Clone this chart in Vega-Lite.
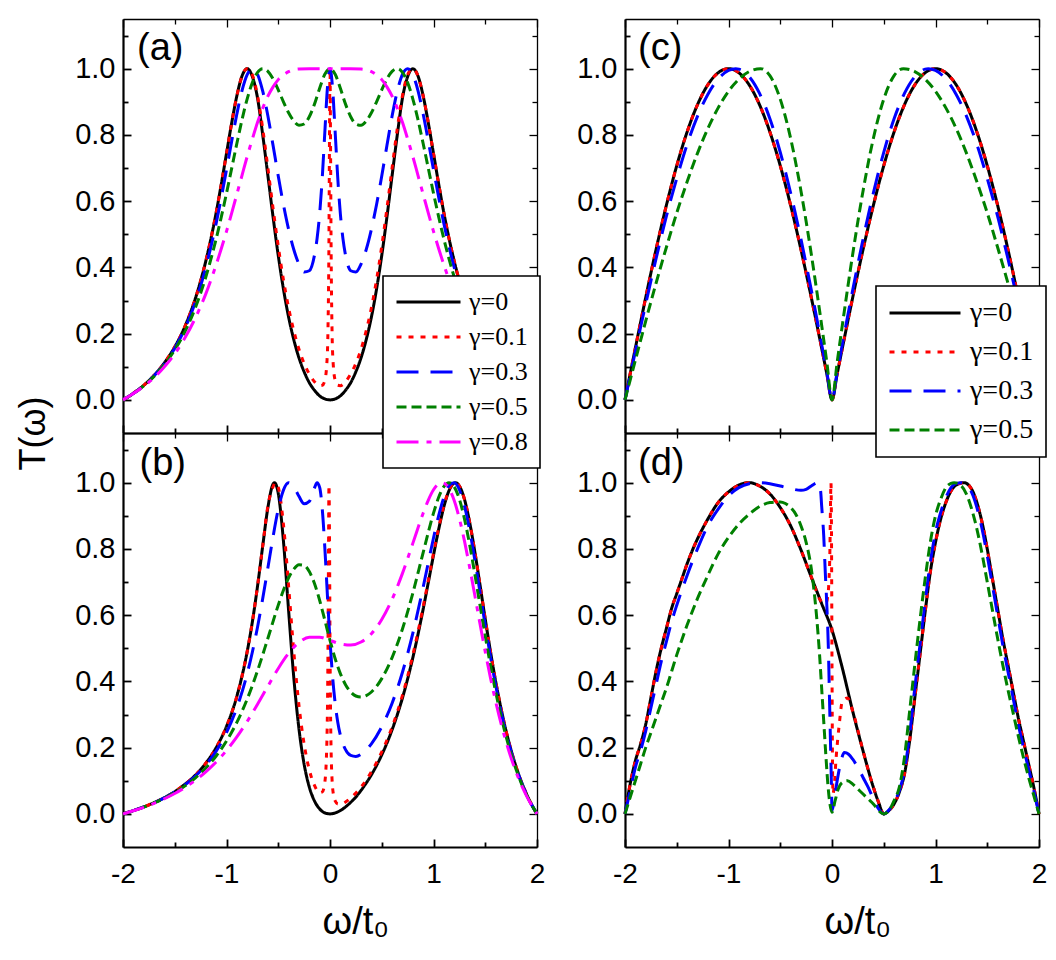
{
  "$schema": "https://vega.github.io/schema/vega-lite/v6.json",
  "background": "white",
  "padding": {"left": 15, "top": 18, "right": 4, "bottom": 4},
  "columns": 2,
  "spacing": {"row": 0, "column": 88},
  "bounds": "flush",
  "config": {
    "view": {"stroke": null},
    "font": "Liberation Sans",
    "axis": {
      "grid": false,
      "domainColor": "black",
      "tickColor": "black",
      "labelColor": "black",
      "titleColor": "black",
      "labelFont": "Liberation Sans",
      "titleFont": "Liberation Sans",
      "titleFontWeight": "normal",
      "labelOverlap": false,
      "labelFlush": false,
      "labelBound": false
    },
    "legend": {"strokeWidth": 1.6}
  },
  "resolve": {
    "scale": {"color": "independent", "strokeDash": "independent"},
    "legend": {"color": "independent", "strokeDash": "independent"}
  },
  "datasets": {
    "panelA": [
      {"gamma":"γ=0","x":-2,"T":0},{"gamma":"γ=0","x":-1.95,"T":0.009},{"gamma":"γ=0","x":-1.9,"T":0.02},{"gamma":"γ=0","x":-1.8,"T":0.044},{"gamma":"γ=0","x":-1.7,"T":0.074},{"gamma":"γ=0","x":-1.6,"T":0.112},{"gamma":"γ=0","x":-1.5,"T":0.16},{"gamma":"γ=0","x":-1.4,"T":0.223},{"gamma":"γ=0","x":-1.3,"T":0.307},{"gamma":"γ=0","x":-1.2,"T":0.419},{"gamma":"γ=0","x":-1.1,"T":0.565},{"gamma":"γ=0","x":-1.05,"T":0.652},{"gamma":"γ=0","x":-1,"T":0.744},{"gamma":"γ=0","x":-0.95,"T":0.836},{"gamma":"γ=0","x":-0.9,"T":0.918},{"gamma":"γ=0","x":-0.85,"T":0.978},{"gamma":"γ=0","x":-0.8,"T":1},{"gamma":"γ=0","x":-0.75,"T":0.976},{"gamma":"γ=0","x":-0.7,"T":0.911},{"gamma":"γ=0","x":-0.65,"T":0.8},{"gamma":"γ=0","x":-0.6,"T":0.677},{"gamma":"γ=0","x":-0.55,"T":0.552},{"gamma":"γ=0","x":-0.5,"T":0.436},{"gamma":"γ=0","x":-0.45,"T":0.335},{"gamma":"γ=0","x":-0.4,"T":0.25},{"gamma":"γ=0","x":-0.35,"T":0.182},{"gamma":"γ=0","x":-0.3,"T":0.127},{"gamma":"γ=0","x":-0.25,"T":0.085},{"gamma":"γ=0","x":-0.2,"T":0.052},{"gamma":"γ=0","x":-0.15,"T":0.029},{"gamma":"γ=0","x":-0.1,"T":0.012},{"gamma":"γ=0","x":-0.05,"T":0.003},{"gamma":"γ=0","x":0,"T":0},
      {"gamma":"γ=0","x":0.05,"T":0.003},{"gamma":"γ=0","x":0.1,"T":0.012},{"gamma":"γ=0","x":0.15,"T":0.029},{"gamma":"γ=0","x":0.2,"T":0.052},{"gamma":"γ=0","x":0.25,"T":0.085},{"gamma":"γ=0","x":0.3,"T":0.127},{"gamma":"γ=0","x":0.35,"T":0.182},{"gamma":"γ=0","x":0.4,"T":0.25},{"gamma":"γ=0","x":0.45,"T":0.335},{"gamma":"γ=0","x":0.5,"T":0.436},{"gamma":"γ=0","x":0.55,"T":0.552},{"gamma":"γ=0","x":0.6,"T":0.677},{"gamma":"γ=0","x":0.65,"T":0.8},{"gamma":"γ=0","x":0.7,"T":0.911},{"gamma":"γ=0","x":0.75,"T":0.976},{"gamma":"γ=0","x":0.8,"T":1},{"gamma":"γ=0","x":0.85,"T":0.978},{"gamma":"γ=0","x":0.9,"T":0.918},{"gamma":"γ=0","x":0.95,"T":0.836},{"gamma":"γ=0","x":1,"T":0.744},{"gamma":"γ=0","x":1.05,"T":0.652},{"gamma":"γ=0","x":1.1,"T":0.565},{"gamma":"γ=0","x":1.2,"T":0.419},{"gamma":"γ=0","x":1.3,"T":0.307},{"gamma":"γ=0","x":1.4,"T":0.223},{"gamma":"γ=0","x":1.5,"T":0.16},{"gamma":"γ=0","x":1.6,"T":0.112},{"gamma":"γ=0","x":1.7,"T":0.074},{"gamma":"γ=0","x":1.8,"T":0.044},{"gamma":"γ=0","x":1.9,"T":0.02},{"gamma":"γ=0","x":1.95,"T":0.009},{"gamma":"γ=0","x":2,"T":0},

      {"gamma":"γ=0.1","x":-2,"T":0},{"gamma":"γ=0.1","x":-1.95,"T":0.009},{"gamma":"γ=0.1","x":-1.9,"T":0.02},{"gamma":"γ=0.1","x":-1.8,"T":0.044},{"gamma":"γ=0.1","x":-1.7,"T":0.074},{"gamma":"γ=0.1","x":-1.6,"T":0.112},{"gamma":"γ=0.1","x":-1.5,"T":0.16},{"gamma":"γ=0.1","x":-1.4,"T":0.223},{"gamma":"γ=0.1","x":-1.3,"T":0.307},{"gamma":"γ=0.1","x":-1.2,"T":0.419},{"gamma":"γ=0.1","x":-1.1,"T":0.565},{"gamma":"γ=0.1","x":-1.05,"T":0.652},{"gamma":"γ=0.1","x":-1,"T":0.744},{"gamma":"γ=0.1","x":-0.95,"T":0.836},{"gamma":"γ=0.1","x":-0.9,"T":0.918},{"gamma":"γ=0.1","x":-0.85,"T":0.978},{"gamma":"γ=0.1","x":-0.8,"T":1},{"gamma":"γ=0.1","x":-0.75,"T":0.981},{"gamma":"γ=0.1","x":-0.7,"T":0.918},{"gamma":"γ=0.1","x":-0.65,"T":0.819},{"gamma":"γ=0.1","x":-0.6,"T":0.7},{"gamma":"γ=0.1","x":-0.55,"T":0.578},{"gamma":"γ=0.1","x":-0.5,"T":0.464},{"gamma":"γ=0.1","x":-0.45,"T":0.363},{"gamma":"γ=0.1","x":-0.4,"T":0.278},{"gamma":"γ=0.1","x":-0.35,"T":0.209},{"gamma":"γ=0.1","x":-0.3,"T":0.153},{"gamma":"γ=0.1","x":-0.25,"T":0.11},{"gamma":"γ=0.1","x":-0.2,"T":0.078},{"gamma":"γ=0.1","x":-0.15,"T":0.055},{"gamma":"γ=0.1","x":-0.1,"T":0.043},{"gamma":"γ=0.1","x":-0.075,"T":0.044},{"gamma":"γ=0.1","x":-0.05,"T":0.059},{"gamma":"γ=0.1","x":-0.03,"T":0.113},{"gamma":"γ=0.1","x":-0.02,"T":0.205},{"gamma":"γ=0.1","x":-0.01,"T":0.491},{"gamma":"γ=0.1","x":-0.005,"T":0.791},{"gamma":"γ=0.1","x":0,"T":1},
      {"gamma":"γ=0.1","x":0.005,"T":0.791},{"gamma":"γ=0.1","x":0.01,"T":0.491},{"gamma":"γ=0.1","x":0.02,"T":0.205},{"gamma":"γ=0.1","x":0.03,"T":0.113},{"gamma":"γ=0.1","x":0.05,"T":0.059},{"gamma":"γ=0.1","x":0.075,"T":0.044},{"gamma":"γ=0.1","x":0.1,"T":0.043},{"gamma":"γ=0.1","x":0.15,"T":0.055},{"gamma":"γ=0.1","x":0.2,"T":0.078},{"gamma":"γ=0.1","x":0.25,"T":0.11},{"gamma":"γ=0.1","x":0.3,"T":0.153},{"gamma":"γ=0.1","x":0.35,"T":0.209},{"gamma":"γ=0.1","x":0.4,"T":0.278},{"gamma":"γ=0.1","x":0.45,"T":0.363},{"gamma":"γ=0.1","x":0.5,"T":0.464},{"gamma":"γ=0.1","x":0.55,"T":0.578},{"gamma":"γ=0.1","x":0.6,"T":0.7},{"gamma":"γ=0.1","x":0.65,"T":0.819},{"gamma":"γ=0.1","x":0.7,"T":0.918},{"gamma":"γ=0.1","x":0.75,"T":0.981},{"gamma":"γ=0.1","x":0.8,"T":1},{"gamma":"γ=0.1","x":0.85,"T":0.978},{"gamma":"γ=0.1","x":0.9,"T":0.918},{"gamma":"γ=0.1","x":0.95,"T":0.836},{"gamma":"γ=0.1","x":1,"T":0.744},{"gamma":"γ=0.1","x":1.05,"T":0.652},{"gamma":"γ=0.1","x":1.1,"T":0.565},{"gamma":"γ=0.1","x":1.2,"T":0.419},{"gamma":"γ=0.1","x":1.3,"T":0.307},{"gamma":"γ=0.1","x":1.4,"T":0.223},{"gamma":"γ=0.1","x":1.5,"T":0.16},{"gamma":"γ=0.1","x":1.6,"T":0.112},{"gamma":"γ=0.1","x":1.7,"T":0.074},{"gamma":"γ=0.1","x":1.8,"T":0.044},{"gamma":"γ=0.1","x":1.9,"T":0.02},{"gamma":"γ=0.1","x":1.95,"T":0.009},{"gamma":"γ=0.1","x":2,"T":0},

      {"gamma":"γ=0.3","x":-2,"T":0},{"gamma":"γ=0.3","x":-1.9,"T":0.019},{"gamma":"γ=0.3","x":-1.8,"T":0.043},{"gamma":"γ=0.3","x":-1.7,"T":0.073},{"gamma":"γ=0.3","x":-1.6,"T":0.109},{"gamma":"γ=0.3","x":-1.5,"T":0.156},{"gamma":"γ=0.3","x":-1.4,"T":0.217},{"gamma":"γ=0.3","x":-1.3,"T":0.296},{"gamma":"γ=0.3","x":-1.2,"T":0.4},{"gamma":"γ=0.3","x":-1.1,"T":0.533},{"gamma":"γ=0.3","x":-1,"T":0.695},{"gamma":"γ=0.3","x":-0.95,"T":0.781},{"gamma":"γ=0.3","x":-0.9,"T":0.863},{"gamma":"γ=0.3","x":-0.85,"T":0.934},{"gamma":"γ=0.3","x":-0.8,"T":0.982},{"gamma":"γ=0.3","x":-0.75,"T":1},{"gamma":"γ=0.3","x":-0.7,"T":0.983},{"gamma":"γ=0.3","x":-0.65,"T":0.932},{"gamma":"γ=0.3","x":-0.6,"T":0.857},{"gamma":"γ=0.3","x":-0.55,"T":0.768},{"gamma":"γ=0.3","x":-0.5,"T":0.676},{"gamma":"γ=0.3","x":-0.45,"T":0.59},{"gamma":"γ=0.3","x":-0.4,"T":0.515},{"gamma":"γ=0.3","x":-0.35,"T":0.454},{"gamma":"γ=0.3","x":-0.3,"T":0.41},{"gamma":"γ=0.3","x":-0.25,"T":0.386},{"gamma":"γ=0.3","x":-0.2,"T":0.39},{"gamma":"γ=0.3","x":-0.15,"T":0.437},{"gamma":"γ=0.3","x":-0.125,"T":0.487},{"gamma":"γ=0.3","x":-0.1,"T":0.562},{"gamma":"γ=0.3","x":-0.075,"T":0.67},{"gamma":"γ=0.3","x":-0.05,"T":0.808},{"gamma":"γ=0.3","x":-0.025,"T":0.941},{"gamma":"γ=0.3","x":0,"T":1},
      {"gamma":"γ=0.3","x":0.025,"T":0.941},{"gamma":"γ=0.3","x":0.05,"T":0.808},{"gamma":"γ=0.3","x":0.075,"T":0.67},{"gamma":"γ=0.3","x":0.1,"T":0.562},{"gamma":"γ=0.3","x":0.125,"T":0.487},{"gamma":"γ=0.3","x":0.15,"T":0.437},{"gamma":"γ=0.3","x":0.2,"T":0.39},{"gamma":"γ=0.3","x":0.25,"T":0.386},{"gamma":"γ=0.3","x":0.3,"T":0.41},{"gamma":"γ=0.3","x":0.35,"T":0.454},{"gamma":"γ=0.3","x":0.4,"T":0.515},{"gamma":"γ=0.3","x":0.45,"T":0.59},{"gamma":"γ=0.3","x":0.5,"T":0.676},{"gamma":"γ=0.3","x":0.55,"T":0.768},{"gamma":"γ=0.3","x":0.6,"T":0.857},{"gamma":"γ=0.3","x":0.65,"T":0.932},{"gamma":"γ=0.3","x":0.7,"T":0.983},{"gamma":"γ=0.3","x":0.75,"T":1},{"gamma":"γ=0.3","x":0.8,"T":0.982},{"gamma":"γ=0.3","x":0.85,"T":0.934},{"gamma":"γ=0.3","x":0.9,"T":0.863},{"gamma":"γ=0.3","x":0.95,"T":0.781},{"gamma":"γ=0.3","x":1,"T":0.695},{"gamma":"γ=0.3","x":1.1,"T":0.533},{"gamma":"γ=0.3","x":1.2,"T":0.4},{"gamma":"γ=0.3","x":1.3,"T":0.296},{"gamma":"γ=0.3","x":1.4,"T":0.217},{"gamma":"γ=0.3","x":1.5,"T":0.156},{"gamma":"γ=0.3","x":1.6,"T":0.109},{"gamma":"γ=0.3","x":1.7,"T":0.073},{"gamma":"γ=0.3","x":1.8,"T":0.043},{"gamma":"γ=0.3","x":1.9,"T":0.019},{"gamma":"γ=0.3","x":2,"T":0},

      {"gamma":"γ=0.5","x":-2,"T":0},{"gamma":"γ=0.5","x":-1.9,"T":0.019},{"gamma":"γ=0.5","x":-1.8,"T":0.042},{"gamma":"γ=0.5","x":-1.7,"T":0.071},{"gamma":"γ=0.5","x":-1.6,"T":0.106},{"gamma":"γ=0.5","x":-1.5,"T":0.151},{"gamma":"γ=0.5","x":-1.4,"T":0.207},{"gamma":"γ=0.5","x":-1.3,"T":0.279},{"gamma":"γ=0.5","x":-1.2,"T":0.371},{"gamma":"γ=0.5","x":-1.1,"T":0.486},{"gamma":"γ=0.5","x":-1,"T":0.624},{"gamma":"γ=0.5","x":-0.95,"T":0.699},{"gamma":"γ=0.5","x":-0.9,"T":0.774},{"gamma":"γ=0.5","x":-0.85,"T":0.846},{"gamma":"γ=0.5","x":-0.8,"T":0.909},{"gamma":"γ=0.5","x":-0.75,"T":0.958},{"gamma":"γ=0.5","x":-0.7,"T":0.989},{"gamma":"γ=0.5","x":-0.65,"T":1},{"gamma":"γ=0.5","x":-0.6,"T":0.992},{"gamma":"γ=0.5","x":-0.55,"T":0.969},{"gamma":"γ=0.5","x":-0.5,"T":0.936},{"gamma":"γ=0.5","x":-0.45,"T":0.9},{"gamma":"γ=0.5","x":-0.4,"T":0.867},{"gamma":"γ=0.5","x":-0.35,"T":0.842},{"gamma":"γ=0.5","x":-0.3,"T":0.829},{"gamma":"γ=0.5","x":-0.25,"T":0.833},{"gamma":"γ=0.5","x":-0.2,"T":0.855},{"gamma":"γ=0.5","x":-0.15,"T":0.893},{"gamma":"γ=0.5","x":-0.1,"T":0.941},{"gamma":"γ=0.5","x":-0.05,"T":0.983},{"gamma":"γ=0.5","x":0,"T":1},
      {"gamma":"γ=0.5","x":0.05,"T":0.983},{"gamma":"γ=0.5","x":0.1,"T":0.941},{"gamma":"γ=0.5","x":0.15,"T":0.893},{"gamma":"γ=0.5","x":0.2,"T":0.855},{"gamma":"γ=0.5","x":0.25,"T":0.833},{"gamma":"γ=0.5","x":0.3,"T":0.829},{"gamma":"γ=0.5","x":0.35,"T":0.842},{"gamma":"γ=0.5","x":0.4,"T":0.867},{"gamma":"γ=0.5","x":0.45,"T":0.9},{"gamma":"γ=0.5","x":0.5,"T":0.936},{"gamma":"γ=0.5","x":0.55,"T":0.969},{"gamma":"γ=0.5","x":0.6,"T":0.992},{"gamma":"γ=0.5","x":0.65,"T":1},{"gamma":"γ=0.5","x":0.7,"T":0.989},{"gamma":"γ=0.5","x":0.75,"T":0.958},{"gamma":"γ=0.5","x":0.8,"T":0.909},{"gamma":"γ=0.5","x":0.85,"T":0.846},{"gamma":"γ=0.5","x":0.9,"T":0.774},{"gamma":"γ=0.5","x":0.95,"T":0.699},{"gamma":"γ=0.5","x":1,"T":0.624},{"gamma":"γ=0.5","x":1.1,"T":0.486},{"gamma":"γ=0.5","x":1.2,"T":0.371},{"gamma":"γ=0.5","x":1.3,"T":0.279},{"gamma":"γ=0.5","x":1.4,"T":0.207},{"gamma":"γ=0.5","x":1.5,"T":0.151},{"gamma":"γ=0.5","x":1.6,"T":0.106},{"gamma":"γ=0.5","x":1.7,"T":0.071},{"gamma":"γ=0.5","x":1.8,"T":0.042},{"gamma":"γ=0.5","x":1.9,"T":0.019},{"gamma":"γ=0.5","x":2,"T":0},

      {"gamma":"γ=0.8","x":-2,"T":0},{"gamma":"γ=0.8","x":-1.9,"T":0.019},{"gamma":"γ=0.8","x":-1.8,"T":0.041},{"gamma":"γ=0.8","x":-1.7,"T":0.067},{"gamma":"γ=0.8","x":-1.6,"T":0.1},{"gamma":"γ=0.8","x":-1.5,"T":0.139},{"gamma":"γ=0.8","x":-1.4,"T":0.188},{"gamma":"γ=0.8","x":-1.3,"T":0.248},{"gamma":"γ=0.8","x":-1.2,"T":0.32},{"gamma":"γ=0.8","x":-1.1,"T":0.408},{"gamma":"γ=0.8","x":-1,"T":0.509},{"gamma":"γ=0.8","x":-0.95,"T":0.564},{"gamma":"γ=0.8","x":-0.9,"T":0.621},{"gamma":"γ=0.8","x":-0.85,"T":0.678},{"gamma":"γ=0.8","x":-0.8,"T":0.735},{"gamma":"γ=0.8","x":-0.75,"T":0.788},{"gamma":"γ=0.8","x":-0.7,"T":0.838},{"gamma":"γ=0.8","x":-0.65,"T":0.881},{"gamma":"γ=0.8","x":-0.6,"T":0.917},{"gamma":"γ=0.8","x":-0.55,"T":0.945},{"gamma":"γ=0.8","x":-0.5,"T":0.967},{"gamma":"γ=0.8","x":-0.45,"T":0.981},{"gamma":"γ=0.8","x":-0.4,"T":0.991},{"gamma":"γ=0.8","x":-0.3,"T":0.999},{"gamma":"γ=0.8","x":-0.2,"T":1},{"gamma":"γ=0.8","x":-0.1,"T":1},{"gamma":"γ=0.8","x":0,"T":1},
      {"gamma":"γ=0.8","x":0.1,"T":1},{"gamma":"γ=0.8","x":0.2,"T":1},{"gamma":"γ=0.8","x":0.3,"T":0.999},{"gamma":"γ=0.8","x":0.4,"T":0.991},{"gamma":"γ=0.8","x":0.45,"T":0.981},{"gamma":"γ=0.8","x":0.5,"T":0.967},{"gamma":"γ=0.8","x":0.55,"T":0.945},{"gamma":"γ=0.8","x":0.6,"T":0.917},{"gamma":"γ=0.8","x":0.65,"T":0.881},{"gamma":"γ=0.8","x":0.7,"T":0.838},{"gamma":"γ=0.8","x":0.75,"T":0.788},{"gamma":"γ=0.8","x":0.8,"T":0.735},{"gamma":"γ=0.8","x":0.85,"T":0.678},{"gamma":"γ=0.8","x":0.9,"T":0.621},{"gamma":"γ=0.8","x":0.95,"T":0.564},{"gamma":"γ=0.8","x":1,"T":0.509},{"gamma":"γ=0.8","x":1.1,"T":0.408},{"gamma":"γ=0.8","x":1.2,"T":0.32},{"gamma":"γ=0.8","x":1.3,"T":0.248},{"gamma":"γ=0.8","x":1.4,"T":0.188},{"gamma":"γ=0.8","x":1.5,"T":0.139},{"gamma":"γ=0.8","x":1.6,"T":0.1},{"gamma":"γ=0.8","x":1.7,"T":0.067},{"gamma":"γ=0.8","x":1.8,"T":0.041},{"gamma":"γ=0.8","x":1.9,"T":0.019},{"gamma":"γ=0.8","x":2,"T":0}
    ],
    "panelB": [
      {"gamma":"γ=0","x":-2,"T":0},{"gamma":"γ=0","x":-1.95,"T":0.005},{"gamma":"γ=0","x":-1.9,"T":0.01},{"gamma":"γ=0","x":-1.8,"T":0.021},{"gamma":"γ=0","x":-1.7,"T":0.034},{"gamma":"γ=0","x":-1.6,"T":0.049},{"gamma":"γ=0","x":-1.5,"T":0.067},{"gamma":"γ=0","x":-1.4,"T":0.09},{"gamma":"γ=0","x":-1.3,"T":0.117},{"gamma":"γ=0","x":-1.2,"T":0.153},{"gamma":"γ=0","x":-1.1,"T":0.2},{"gamma":"γ=0","x":-1,"T":0.264},{"gamma":"γ=0","x":-0.9,"T":0.355},{"gamma":"γ=0","x":-0.8,"T":0.49},{"gamma":"γ=0","x":-0.75,"T":0.58},{"gamma":"γ=0","x":-0.7,"T":0.688},{"gamma":"γ=0","x":-0.65,"T":0.809},{"gamma":"γ=0","x":-0.6,"T":0.925},{"gamma":"γ=0","x":-0.55,"T":0.996},{"gamma":"γ=0","x":-0.537,"T":1},{"gamma":"γ=0","x":-0.5,"T":0.968},{"gamma":"γ=0","x":-0.45,"T":0.824},{"gamma":"γ=0","x":-0.4,"T":0.614},{"gamma":"γ=0","x":-0.35,"T":0.412},{"gamma":"γ=0","x":-0.3,"T":0.257},{"gamma":"γ=0","x":-0.25,"T":0.15},{"gamma":"γ=0","x":-0.2,"T":0.081},{"gamma":"γ=0","x":-0.15,"T":0.039},{"gamma":"γ=0","x":-0.1,"T":0.015},{"gamma":"γ=0","x":-0.05,"T":0.003},{"gamma":"γ=0","x":0,"T":0},{"gamma":"γ=0","x":0.05,"T":0.003},{"gamma":"γ=0","x":0.1,"T":0.01},{"gamma":"γ=0","x":0.15,"T":0.021},{"gamma":"γ=0","x":0.2,"T":0.035},{"gamma":"γ=0","x":0.25,"T":0.051},{"gamma":"γ=0","x":0.3,"T":0.071},{"gamma":"γ=0","x":0.4,"T":0.118},{"gamma":"γ=0","x":0.5,"T":0.178},{"gamma":"γ=0","x":0.6,"T":0.254},{"gamma":"γ=0","x":0.7,"T":0.35},{"gamma":"γ=0","x":0.8,"T":0.471},{"gamma":"γ=0","x":0.9,"T":0.618},{"gamma":"γ=0","x":0.95,"T":0.699},{"gamma":"γ=0","x":1,"T":0.781},{"gamma":"γ=0","x":1.05,"T":0.859},{"gamma":"γ=0","x":1.1,"T":0.927},{"gamma":"γ=0","x":1.15,"T":0.976},{"gamma":"γ=0","x":1.212,"T":1},{"gamma":"γ=0","x":1.25,"T":0.99},{"gamma":"γ=0","x":1.3,"T":0.949},{"gamma":"γ=0","x":1.35,"T":0.879},{"gamma":"γ=0","x":1.4,"T":0.79},{"gamma":"γ=0","x":1.45,"T":0.69},{"gamma":"γ=0","x":1.5,"T":0.588},{"gamma":"γ=0","x":1.55,"T":0.491},{"gamma":"γ=0","x":1.6,"T":0.401},{"gamma":"γ=0","x":1.65,"T":0.322},{"gamma":"γ=0","x":1.7,"T":0.252},{"gamma":"γ=0","x":1.75,"T":0.192},{"gamma":"γ=0","x":1.8,"T":0.14},{"gamma":"γ=0","x":1.85,"T":0.096},{"gamma":"γ=0","x":1.9,"T":0.059},{"gamma":"γ=0","x":1.95,"T":0.027},{"gamma":"γ=0","x":2,"T":0},

      {"gamma":"γ=0.1","x":-2,"T":0},{"gamma":"γ=0.1","x":-1.95,"T":0.005},{"gamma":"γ=0.1","x":-1.9,"T":0.01},{"gamma":"γ=0.1","x":-1.8,"T":0.021},{"gamma":"γ=0.1","x":-1.7,"T":0.034},{"gamma":"γ=0.1","x":-1.6,"T":0.049},{"gamma":"γ=0.1","x":-1.5,"T":0.067},{"gamma":"γ=0.1","x":-1.4,"T":0.09},{"gamma":"γ=0.1","x":-1.3,"T":0.117},{"gamma":"γ=0.1","x":-1.2,"T":0.153},{"gamma":"γ=0.1","x":-1.1,"T":0.2},{"gamma":"γ=0.1","x":-1,"T":0.264},{"gamma":"γ=0.1","x":-0.9,"T":0.355},{"gamma":"γ=0.1","x":-0.8,"T":0.49},{"gamma":"γ=0.1","x":-0.75,"T":0.58},{"gamma":"γ=0.1","x":-0.7,"T":0.688},{"gamma":"γ=0.1","x":-0.65,"T":0.809},{"gamma":"γ=0.1","x":-0.6,"T":0.93},{"gamma":"γ=0.1","x":-0.55,"T":0.988},{"gamma":"γ=0.1","x":-0.53,"T":1},{"gamma":"γ=0.1","x":-0.5,"T":0.986},{"gamma":"γ=0.1","x":-0.45,"T":0.875},{"gamma":"γ=0.1","x":-0.4,"T":0.688},{"gamma":"γ=0.1","x":-0.35,"T":0.491},{"gamma":"γ=0.1","x":-0.3,"T":0.328},{"gamma":"γ=0.1","x":-0.25,"T":0.211},{"gamma":"γ=0.1","x":-0.2,"T":0.133},{"gamma":"γ=0.1","x":-0.15,"T":0.086},{"gamma":"γ=0.1","x":-0.1,"T":0.064},{"gamma":"γ=0.1","x":-0.075,"T":0.066},{"gamma":"γ=0.1","x":-0.05,"T":0.095},{"gamma":"γ=0.1","x":-0.03,"T":0.219},{"gamma":"γ=0.1","x":-0.02,"T":0.477},{"gamma":"γ=0.1","x":-0.015,"T":0.751},{"gamma":"γ=0.1","x":-0.01,"T":0.993},{"gamma":"γ=0.1","x":-0.005,"T":0.843},{"gamma":"γ=0.1","x":0,"T":0.524},{"gamma":"γ=0.1","x":0.005,"T":0.315},{"gamma":"γ=0.1","x":0.01,"T":0.202},{"gamma":"γ=0.1","x":0.02,"T":0.103},{"gamma":"γ=0.1","x":0.03,"T":0.065},{"gamma":"γ=0.1","x":0.05,"T":0.039},{"gamma":"γ=0.1","x":0.075,"T":0.03},{"gamma":"γ=0.1","x":0.1,"T":0.029},{"gamma":"γ=0.1","x":0.15,"T":0.036},{"gamma":"γ=0.1","x":0.2,"T":0.048},{"gamma":"γ=0.1","x":0.25,"T":0.063},{"gamma":"γ=0.1","x":0.3,"T":0.081},{"gamma":"γ=0.1","x":0.4,"T":0.127},{"gamma":"γ=0.1","x":0.5,"T":0.187},{"gamma":"γ=0.1","x":0.6,"T":0.262},{"gamma":"γ=0.1","x":0.7,"T":0.358},{"gamma":"γ=0.1","x":0.8,"T":0.479},{"gamma":"γ=0.1","x":0.9,"T":0.625},{"gamma":"γ=0.1","x":0.95,"T":0.705},{"gamma":"γ=0.1","x":1,"T":0.787},{"gamma":"γ=0.1","x":1.05,"T":0.864},{"gamma":"γ=0.1","x":1.1,"T":0.93},{"gamma":"γ=0.1","x":1.15,"T":0.978},{"gamma":"γ=0.1","x":1.21,"T":1},{"gamma":"γ=0.1","x":1.25,"T":0.99},{"gamma":"γ=0.1","x":1.3,"T":0.949},{"gamma":"γ=0.1","x":1.35,"T":0.879},{"gamma":"γ=0.1","x":1.4,"T":0.79},{"gamma":"γ=0.1","x":1.45,"T":0.69},{"gamma":"γ=0.1","x":1.5,"T":0.588},{"gamma":"γ=0.1","x":1.55,"T":0.491},{"gamma":"γ=0.1","x":1.6,"T":0.401},{"gamma":"γ=0.1","x":1.65,"T":0.322},{"gamma":"γ=0.1","x":1.7,"T":0.252},{"gamma":"γ=0.1","x":1.75,"T":0.192},{"gamma":"γ=0.1","x":1.8,"T":0.14},{"gamma":"γ=0.1","x":1.85,"T":0.096},{"gamma":"γ=0.1","x":1.9,"T":0.059},{"gamma":"γ=0.1","x":1.95,"T":0.027},{"gamma":"γ=0.1","x":2,"T":0},

      {"gamma":"γ=0.3","x":-2,"T":0},{"gamma":"γ=0.3","x":-1.9,"T":0.0096},{"gamma":"γ=0.3","x":-1.8,"T":0.0207},{"gamma":"γ=0.3","x":-1.7,"T":0.0335},{"gamma":"γ=0.3","x":-1.6,"T":0.0485},{"gamma":"γ=0.3","x":-1.5,"T":0.0663},{"gamma":"γ=0.3","x":-1.4,"T":0.0878},{"gamma":"γ=0.3","x":-1.3,"T":0.1142},{"gamma":"γ=0.3","x":-1.2,"T":0.1472},{"gamma":"γ=0.3","x":-1.1,"T":0.1896},{"gamma":"γ=0.3","x":-1,"T":0.2453},{"gamma":"γ=0.3","x":-0.9,"T":0.3205},{"gamma":"γ=0.3","x":-0.8,"T":0.4236},{"gamma":"γ=0.3","x":-0.75,"T":0.4889},{"gamma":"γ=0.3","x":-0.7,"T":0.5645},{"gamma":"γ=0.3","x":-0.65,"T":0.6503},{"gamma":"γ=0.3","x":-0.6,"T":0.7434},{"gamma":"γ=0.3","x":-0.55,"T":0.8371},{"gamma":"γ=0.3","x":-0.5,"T":0.92},{"gamma":"γ=0.3","x":-0.45,"T":0.9776},{"gamma":"γ=0.3","x":-0.4,"T":0.9998},{"gamma":"γ=0.3","x":-0.35,"T":0.9882},{"gamma":"γ=0.3","x":-0.3,"T":0.9588},{"gamma":"γ=0.3","x":-0.25,"T":0.9361},{"gamma":"γ=0.3","x":-0.2,"T":0.9434},{"gamma":"γ=0.3","x":-0.15,"T":0.9842},{"gamma":"γ=0.3","x":-0.125,"T":0.9996},{"gamma":"γ=0.3","x":-0.1,"T":0.986},{"gamma":"γ=0.3","x":-0.075,"T":0.9213},{"gamma":"γ=0.3","x":-0.05,"T":0.8038},{"gamma":"γ=0.3","x":-0.025,"T":0.6599},{"gamma":"γ=0.3","x":0,"T":0.5238},{"gamma":"γ=0.3","x":0.025,"T":0.4142},{"gamma":"γ=0.3","x":0.05,"T":0.3336},{"gamma":"γ=0.3","x":0.075,"T":0.2769},{"gamma":"γ=0.3","x":0.1,"T":0.2379},{"gamma":"γ=0.3","x":0.15,"T":0.1939},{"gamma":"γ=0.3","x":0.2,"T":0.1764},{"gamma":"γ=0.3","x":0.25,"T":0.1734},{"gamma":"γ=0.3","x":0.3,"T":0.1798},{"gamma":"γ=0.3","x":0.35,"T":0.1928},{"gamma":"γ=0.3","x":0.4,"T":0.2113},{"gamma":"γ=0.3","x":0.5,"T":0.2629},{"gamma":"γ=0.3","x":0.6,"T":0.3343},{"gamma":"γ=0.3","x":0.7,"T":0.4275},{"gamma":"γ=0.3","x":0.8,"T":0.5449},{"gamma":"γ=0.3","x":0.9,"T":0.6844},{"gamma":"γ=0.3","x":1,"T":0.8329},{"gamma":"γ=0.3","x":1.05,"T":0.9006},{"gamma":"γ=0.3","x":1.1,"T":0.9556},{"gamma":"γ=0.3","x":1.15,"T":0.9906},{"gamma":"γ=0.3","x":1.2,"T":0.9995},{"gamma":"γ=0.3","x":1.25,"T":0.9787},{"gamma":"γ=0.3","x":1.3,"T":0.929},{"gamma":"γ=0.3","x":1.35,"T":0.8554},{"gamma":"γ=0.3","x":1.4,"T":0.7655},{"gamma":"γ=0.3","x":1.45,"T":0.6677},{"gamma":"γ=0.3","x":1.5,"T":0.5694},{"gamma":"γ=0.3","x":1.55,"T":0.4756},{"gamma":"γ=0.3","x":1.6,"T":0.3897},{"gamma":"γ=0.3","x":1.65,"T":0.3129},{"gamma":"γ=0.3","x":1.7,"T":0.2457},{"gamma":"γ=0.3","x":1.75,"T":0.1875},{"gamma":"γ=0.3","x":1.8,"T":0.1375},{"gamma":"γ=0.3","x":1.85,"T":0.0946},{"gamma":"γ=0.3","x":1.9,"T":0.058},{"gamma":"γ=0.3","x":1.95,"T":0.0268},{"gamma":"γ=0.3","x":2,"T":0},

      {"gamma":"γ=0.5","x":-2,"T":0},{"gamma":"γ=0.5","x":-1.9,"T":0.0095},{"gamma":"γ=0.5","x":-1.8,"T":0.0204},{"gamma":"γ=0.5","x":-1.7,"T":0.0329},{"gamma":"γ=0.5","x":-1.6,"T":0.0474},{"gamma":"γ=0.5","x":-1.5,"T":0.0644},{"gamma":"γ=0.5","x":-1.4,"T":0.0846},{"gamma":"γ=0.5","x":-1.3,"T":0.1088},{"gamma":"γ=0.5","x":-1.2,"T":0.1384},{"gamma":"γ=0.5","x":-1.1,"T":0.1747},{"gamma":"γ=0.5","x":-1,"T":0.2199},{"gamma":"γ=0.5","x":-0.9,"T":0.2764},{"gamma":"γ=0.5","x":-0.8,"T":0.3467},{"gamma":"γ=0.5","x":-0.7,"T":0.4323},{"gamma":"γ=0.5","x":-0.6,"T":0.5303},{"gamma":"γ=0.5","x":-0.5,"T":0.6303},{"gamma":"γ=0.5","x":-0.45,"T":0.675},{"gamma":"γ=0.5","x":-0.4,"T":0.7123},{"gamma":"γ=0.5","x":-0.35,"T":0.739},{"gamma":"γ=0.5","x":-0.3,"T":0.7524},{"gamma":"γ=0.5","x":-0.25,"T":0.7505},{"gamma":"γ=0.5","x":-0.2,"T":0.7316},{"gamma":"γ=0.5","x":-0.15,"T":0.6955},{"gamma":"γ=0.5","x":-0.1,"T":0.6446},{"gamma":"γ=0.5","x":-0.05,"T":0.5849},{"gamma":"γ=0.5","x":0,"T":0.5238},{"gamma":"γ=0.5","x":0.05,"T":0.4686},{"gamma":"γ=0.5","x":0.1,"T":0.4235},{"gamma":"γ=0.5","x":0.15,"T":0.3901},{"gamma":"γ=0.5","x":0.2,"T":0.3679},{"gamma":"γ=0.5","x":0.25,"T":0.3559},{"gamma":"γ=0.5","x":0.3,"T":0.3526},{"gamma":"γ=0.5","x":0.35,"T":0.357},{"gamma":"γ=0.5","x":0.4,"T":0.368},{"gamma":"γ=0.5","x":0.5,"T":0.4084},{"gamma":"γ=0.5","x":0.6,"T":0.472},{"gamma":"γ=0.5","x":0.7,"T":0.5583},{"gamma":"γ=0.5","x":0.8,"T":0.6662},{"gamma":"γ=0.5","x":0.9,"T":0.789},{"gamma":"γ=0.5","x":1,"T":0.908},{"gamma":"γ=0.5","x":1.05,"T":0.9558},{"gamma":"γ=0.5","x":1.1,"T":0.9882},{"gamma":"γ=0.5","x":1.15,"T":1},{"gamma":"γ=0.5","x":1.2,"T":0.9876},{"gamma":"γ=0.5","x":1.25,"T":0.9501},{"gamma":"γ=0.5","x":1.3,"T":0.8897},{"gamma":"γ=0.5","x":1.35,"T":0.8117},{"gamma":"γ=0.5","x":1.4,"T":0.7227},{"gamma":"γ=0.5","x":1.45,"T":0.6291},{"gamma":"γ=0.5","x":1.5,"T":0.5368},{"gamma":"γ=0.5","x":1.55,"T":0.4495},{"gamma":"γ=0.5","x":1.6,"T":0.3695},{"gamma":"γ=0.5","x":1.65,"T":0.298},{"gamma":"γ=0.5","x":1.7,"T":0.2349},{"gamma":"γ=0.5","x":1.75,"T":0.18},{"gamma":"γ=0.5","x":1.8,"T":0.1325},{"gamma":"γ=0.5","x":1.85,"T":0.0915},{"gamma":"γ=0.5","x":1.9,"T":0.0563},{"gamma":"γ=0.5","x":1.95,"T":0.026},{"gamma":"γ=0.5","x":2,"T":0},

      {"gamma":"γ=0.8","x":-2,"T":0},{"gamma":"γ=0.8","x":-1.9,"T":0.0093},{"gamma":"γ=0.8","x":-1.8,"T":0.0199},{"gamma":"γ=0.8","x":-1.7,"T":0.0319},{"gamma":"γ=0.8","x":-1.6,"T":0.0457},{"gamma":"γ=0.8","x":-1.5,"T":0.0616},{"gamma":"γ=0.8","x":-1.4,"T":0.08},{"gamma":"γ=0.8","x":-1.3,"T":0.1016},{"gamma":"γ=0.8","x":-1.2,"T":0.127},{"gamma":"γ=0.8","x":-1.1,"T":0.1567},{"gamma":"γ=0.8","x":-1,"T":0.1917},{"gamma":"γ=0.8","x":-0.9,"T":0.2325},{"gamma":"γ=0.8","x":-0.8,"T":0.2792},{"gamma":"γ=0.8","x":-0.7,"T":0.3311},{"gamma":"γ=0.8","x":-0.6,"T":0.3858},{"gamma":"γ=0.8","x":-0.5,"T":0.439},{"gamma":"γ=0.8","x":-0.4,"T":0.4848},{"gamma":"γ=0.8","x":-0.3,"T":0.5173},{"gamma":"γ=0.8","x":-0.2,"T":0.5331},{"gamma":"γ=0.8","x":-0.1,"T":0.5333},{"gamma":"γ=0.8","x":0,"T":0.5238},{"gamma":"γ=0.8","x":0.1,"T":0.5133},{"gamma":"γ=0.8","x":0.2,"T":0.5098},{"gamma":"γ=0.8","x":0.3,"T":0.519},{"gamma":"γ=0.8","x":0.4,"T":0.5441},{"gamma":"γ=0.8","x":0.5,"T":0.587},{"gamma":"γ=0.8","x":0.6,"T":0.648},{"gamma":"γ=0.8","x":0.7,"T":0.7261},{"gamma":"γ=0.8","x":0.8,"T":0.8167},{"gamma":"γ=0.8","x":0.9,"T":0.908},{"gamma":"γ=0.8","x":0.95,"T":0.9476},{"gamma":"γ=0.8","x":1,"T":0.9785},{"gamma":"γ=0.8","x":1.05,"T":0.9967},{"gamma":"γ=0.8","x":1.08,"T":1},{"gamma":"γ=0.8","x":1.1,"T":0.9987},{"gamma":"γ=0.8","x":1.15,"T":0.982},{"gamma":"γ=0.8","x":1.2,"T":0.9459},{"gamma":"γ=0.8","x":1.25,"T":0.8917},{"gamma":"γ=0.8","x":1.3,"T":0.8226},{"gamma":"γ=0.8","x":1.35,"T":0.7432},{"gamma":"γ=0.8","x":1.4,"T":0.6584},{"gamma":"γ=0.8","x":1.45,"T":0.5726},{"gamma":"γ=0.8","x":1.5,"T":0.4894},{"gamma":"γ=0.8","x":1.55,"T":0.4114},{"gamma":"γ=0.8","x":1.6,"T":0.34},{"gamma":"γ=0.8","x":1.7,"T":0.2187},{"gamma":"γ=0.8","x":1.8,"T":0.1248},{"gamma":"γ=0.8","x":1.9,"T":0.0536},{"gamma":"γ=0.8","x":1.95,"T":0.0249},{"gamma":"γ=0.8","x":2,"T":0}
    ],
    "panelC": [
      {"gamma":"γ=0","x":-2,"T":0},{"gamma":"γ=0","x":-1.95,"T":0.0785},{"gamma":"γ=0","x":-1.9,"T":0.1564},{"gamma":"γ=0","x":-1.85,"T":0.2334},{"gamma":"γ=0","x":-1.8,"T":0.309},{"gamma":"γ=0","x":-1.7,"T":0.454},{"gamma":"γ=0","x":-1.6,"T":0.5878},{"gamma":"γ=0","x":-1.5,"T":0.7071},{"gamma":"γ=0","x":-1.4,"T":0.809},{"gamma":"γ=0","x":-1.3,"T":0.891},{"gamma":"γ=0","x":-1.2,"T":0.9511},{"gamma":"γ=0","x":-1.1,"T":0.9877},{"gamma":"γ=0","x":-1,"T":1},{"gamma":"γ=0","x":-0.9,"T":0.9877},{"gamma":"γ=0","x":-0.8,"T":0.9511},{"gamma":"γ=0","x":-0.7,"T":0.891},{"gamma":"γ=0","x":-0.6,"T":0.809},{"gamma":"γ=0","x":-0.5,"T":0.7071},{"gamma":"γ=0","x":-0.4,"T":0.5878},{"gamma":"γ=0","x":-0.3,"T":0.454},{"gamma":"γ=0","x":-0.2,"T":0.309},{"gamma":"γ=0","x":-0.15,"T":0.2334},{"gamma":"γ=0","x":-0.1,"T":0.1564},{"gamma":"γ=0","x":-0.05,"T":0.0785},{"gamma":"γ=0","x":0,"T":0},{"gamma":"γ=0","x":0.05,"T":0.0785},{"gamma":"γ=0","x":0.1,"T":0.1564},{"gamma":"γ=0","x":0.15,"T":0.2334},{"gamma":"γ=0","x":0.2,"T":0.309},{"gamma":"γ=0","x":0.3,"T":0.454},{"gamma":"γ=0","x":0.4,"T":0.5878},{"gamma":"γ=0","x":0.5,"T":0.7071},{"gamma":"γ=0","x":0.6,"T":0.809},{"gamma":"γ=0","x":0.7,"T":0.891},{"gamma":"γ=0","x":0.8,"T":0.9511},{"gamma":"γ=0","x":0.9,"T":0.9877},{"gamma":"γ=0","x":1,"T":1},{"gamma":"γ=0","x":1.1,"T":0.9877},{"gamma":"γ=0","x":1.2,"T":0.9511},{"gamma":"γ=0","x":1.3,"T":0.891},{"gamma":"γ=0","x":1.4,"T":0.809},{"gamma":"γ=0","x":1.5,"T":0.7071},{"gamma":"γ=0","x":1.6,"T":0.5878},{"gamma":"γ=0","x":1.7,"T":0.454},{"gamma":"γ=0","x":1.8,"T":0.309},{"gamma":"γ=0","x":1.85,"T":0.2334},{"gamma":"γ=0","x":1.9,"T":0.1564},{"gamma":"γ=0","x":1.95,"T":0.0785},{"gamma":"γ=0","x":2,"T":0},

      {"gamma":"γ=0.1","x":-2,"T":0},{"gamma":"γ=0.1","x":-1.95,"T":0.0785},{"gamma":"γ=0.1","x":-1.9,"T":0.1564},{"gamma":"γ=0.1","x":-1.85,"T":0.2334},{"gamma":"γ=0.1","x":-1.8,"T":0.309},{"gamma":"γ=0.1","x":-1.7,"T":0.454},{"gamma":"γ=0.1","x":-1.6,"T":0.5878},{"gamma":"γ=0.1","x":-1.5,"T":0.7071},{"gamma":"γ=0.1","x":-1.4,"T":0.809},{"gamma":"γ=0.1","x":-1.3,"T":0.891},{"gamma":"γ=0.1","x":-1.2,"T":0.9511},{"gamma":"γ=0.1","x":-1.1,"T":0.9877},{"gamma":"γ=0.1","x":-1,"T":1},{"gamma":"γ=0.1","x":-0.9,"T":0.9877},{"gamma":"γ=0.1","x":-0.8,"T":0.9511},{"gamma":"γ=0.1","x":-0.7,"T":0.891},{"gamma":"γ=0.1","x":-0.6,"T":0.809},{"gamma":"γ=0.1","x":-0.5,"T":0.7071},{"gamma":"γ=0.1","x":-0.4,"T":0.5878},{"gamma":"γ=0.1","x":-0.3,"T":0.454},{"gamma":"γ=0.1","x":-0.2,"T":0.309},{"gamma":"γ=0.1","x":-0.15,"T":0.2334},{"gamma":"γ=0.1","x":-0.1,"T":0.1564},{"gamma":"γ=0.1","x":-0.05,"T":0.0785},{"gamma":"γ=0.1","x":0,"T":0},{"gamma":"γ=0.1","x":0.05,"T":0.0785},{"gamma":"γ=0.1","x":0.1,"T":0.1564},{"gamma":"γ=0.1","x":0.15,"T":0.2334},{"gamma":"γ=0.1","x":0.2,"T":0.309},{"gamma":"γ=0.1","x":0.3,"T":0.454},{"gamma":"γ=0.1","x":0.4,"T":0.5878},{"gamma":"γ=0.1","x":0.5,"T":0.7071},{"gamma":"γ=0.1","x":0.6,"T":0.809},{"gamma":"γ=0.1","x":0.7,"T":0.891},{"gamma":"γ=0.1","x":0.8,"T":0.9511},{"gamma":"γ=0.1","x":0.9,"T":0.9877},{"gamma":"γ=0.1","x":1,"T":1},{"gamma":"γ=0.1","x":1.1,"T":0.9877},{"gamma":"γ=0.1","x":1.2,"T":0.9511},{"gamma":"γ=0.1","x":1.3,"T":0.891},{"gamma":"γ=0.1","x":1.4,"T":0.809},{"gamma":"γ=0.1","x":1.5,"T":0.7071},{"gamma":"γ=0.1","x":1.6,"T":0.5878},{"gamma":"γ=0.1","x":1.7,"T":0.454},{"gamma":"γ=0.1","x":1.8,"T":0.309},{"gamma":"γ=0.1","x":1.85,"T":0.2334},{"gamma":"γ=0.1","x":1.9,"T":0.1564},{"gamma":"γ=0.1","x":1.95,"T":0.0785},{"gamma":"γ=0.1","x":2,"T":0},

      {"gamma":"γ=0.3","x":-2,"T":0},{"gamma":"γ=0.3","x":-1.95,"T":0.0733},{"gamma":"γ=0.3","x":-1.9,"T":0.1465},{"gamma":"γ=0.3","x":-1.85,"T":0.2186},{"gamma":"γ=0.3","x":-1.8,"T":0.2897},{"gamma":"γ=0.3","x":-1.7,"T":0.4262},{"gamma":"γ=0.3","x":-1.6,"T":0.5546},{"gamma":"γ=0.3","x":-1.5,"T":0.6689},{"gamma":"γ=0.3","x":-1.4,"T":0.7714},{"gamma":"γ=0.3","x":-1.3,"T":0.8562},{"gamma":"γ=0.3","x":-1.2,"T":0.9222},{"gamma":"γ=0.3","x":-1.1,"T":0.9689},{"gamma":"γ=0.3","x":-1,"T":0.9947},{"gamma":"γ=0.3","x":-0.93,"T":1},{"gamma":"γ=0.3","x":-0.9,"T":0.9987},{"gamma":"γ=0.3","x":-0.8,"T":0.9759},{"gamma":"γ=0.3","x":-0.7,"T":0.9254},{"gamma":"γ=0.3","x":-0.6,"T":0.8489},{"gamma":"γ=0.3","x":-0.5,"T":0.7476},{"gamma":"γ=0.3","x":-0.4,"T":0.6251},{"gamma":"γ=0.3","x":-0.3,"T":0.4853},{"gamma":"γ=0.3","x":-0.2,"T":0.3314},{"gamma":"γ=0.3","x":-0.15,"T":0.2507},{"gamma":"γ=0.3","x":-0.1,"T":0.1681},{"gamma":"γ=0.3","x":-0.05,"T":0.0844},{"gamma":"γ=0.3","x":0,"T":0},{"gamma":"γ=0.3","x":0.05,"T":0.0844},{"gamma":"γ=0.3","x":0.1,"T":0.1681},{"gamma":"γ=0.3","x":0.15,"T":0.2507},{"gamma":"γ=0.3","x":0.2,"T":0.3314},{"gamma":"γ=0.3","x":0.3,"T":0.4853},{"gamma":"γ=0.3","x":0.4,"T":0.6251},{"gamma":"γ=0.3","x":0.5,"T":0.7476},{"gamma":"γ=0.3","x":0.6,"T":0.8489},{"gamma":"γ=0.3","x":0.7,"T":0.9254},{"gamma":"γ=0.3","x":0.8,"T":0.9759},{"gamma":"γ=0.3","x":0.9,"T":0.9987},{"gamma":"γ=0.3","x":0.93,"T":1},{"gamma":"γ=0.3","x":1,"T":0.9947},{"gamma":"γ=0.3","x":1.1,"T":0.9689},{"gamma":"γ=0.3","x":1.2,"T":0.9222},{"gamma":"γ=0.3","x":1.3,"T":0.8562},{"gamma":"γ=0.3","x":1.4,"T":0.7714},{"gamma":"γ=0.3","x":1.5,"T":0.6689},{"gamma":"γ=0.3","x":1.6,"T":0.5546},{"gamma":"γ=0.3","x":1.7,"T":0.4262},{"gamma":"γ=0.3","x":1.8,"T":0.2897},{"gamma":"γ=0.3","x":1.85,"T":0.2186},{"gamma":"γ=0.3","x":1.9,"T":0.1465},{"gamma":"γ=0.3","x":1.95,"T":0.0733},{"gamma":"γ=0.3","x":2,"T":0},

      {"gamma":"γ=0.5","x":-2,"T":0},{"gamma":"γ=0.5","x":-1.95,"T":0.0599},{"gamma":"γ=0.5","x":-1.9,"T":0.1195},{"gamma":"γ=0.5","x":-1.85,"T":0.1787},{"gamma":"γ=0.5","x":-1.8,"T":0.2378},{"gamma":"γ=0.5","x":-1.7,"T":0.3522},{"gamma":"γ=0.5","x":-1.6,"T":0.4607},{"gamma":"γ=0.5","x":-1.5,"T":0.5647},{"gamma":"γ=0.5","x":-1.4,"T":0.6583},{"gamma":"γ=0.5","x":-1.3,"T":0.7444},{"gamma":"γ=0.5","x":-1.2,"T":0.819},{"gamma":"γ=0.5","x":-1.1,"T":0.8817},{"gamma":"γ=0.5","x":-1,"T":0.9318},{"gamma":"γ=0.5","x":-0.9,"T":0.9683},{"gamma":"γ=0.5","x":-0.8,"T":0.9913},{"gamma":"γ=0.5","x":-0.69,"T":1},{"gamma":"γ=0.5","x":-0.6,"T":0.979},{"gamma":"γ=0.5","x":-0.5,"T":0.9081},{"gamma":"γ=0.5","x":-0.4,"T":0.79},{"gamma":"γ=0.5","x":-0.3,"T":0.631},{"gamma":"γ=0.5","x":-0.2,"T":0.4398},{"gamma":"γ=0.5","x":-0.15,"T":0.3349},{"gamma":"γ=0.5","x":-0.1,"T":0.2257},{"gamma":"γ=0.5","x":-0.05,"T":0.1136},{"gamma":"γ=0.5","x":0,"T":0},{"gamma":"γ=0.5","x":0.05,"T":0.1136},{"gamma":"γ=0.5","x":0.1,"T":0.2257},{"gamma":"γ=0.5","x":0.15,"T":0.3349},{"gamma":"γ=0.5","x":0.2,"T":0.4398},{"gamma":"γ=0.5","x":0.3,"T":0.631},{"gamma":"γ=0.5","x":0.4,"T":0.79},{"gamma":"γ=0.5","x":0.5,"T":0.9081},{"gamma":"γ=0.5","x":0.6,"T":0.979},{"gamma":"γ=0.5","x":0.69,"T":1},{"gamma":"γ=0.5","x":0.8,"T":0.9913},{"gamma":"γ=0.5","x":0.9,"T":0.9683},{"gamma":"γ=0.5","x":1,"T":0.9318},{"gamma":"γ=0.5","x":1.1,"T":0.8817},{"gamma":"γ=0.5","x":1.2,"T":0.819},{"gamma":"γ=0.5","x":1.3,"T":0.7444},{"gamma":"γ=0.5","x":1.4,"T":0.6583},{"gamma":"γ=0.5","x":1.5,"T":0.5647},{"gamma":"γ=0.5","x":1.6,"T":0.4607},{"gamma":"γ=0.5","x":1.7,"T":0.3522},{"gamma":"γ=0.5","x":1.8,"T":0.2378},{"gamma":"γ=0.5","x":1.85,"T":0.1787},{"gamma":"γ=0.5","x":1.9,"T":0.1195},{"gamma":"γ=0.5","x":1.95,"T":0.0599},{"gamma":"γ=0.5","x":2,"T":0}
    ],
    "panelD": [
      {"gamma":"γ=0","x":-2,"T":0},{"gamma":"γ=0","x":-1.95,"T":0.09},{"gamma":"γ=0","x":-1.9,"T":0.16},{"gamma":"γ=0","x":-1.85,"T":0.21},{"gamma":"γ=0","x":-1.8,"T":0.27},{"gamma":"γ=0","x":-1.75,"T":0.35},{"gamma":"γ=0","x":-1.7,"T":0.43},{"gamma":"γ=0","x":-1.65,"T":0.5},{"gamma":"γ=0","x":-1.6,"T":0.56},{"gamma":"γ=0","x":-1.55,"T":0.62},{"gamma":"γ=0","x":-1.5,"T":0.665},{"gamma":"γ=0","x":-1.45,"T":0.71},{"gamma":"γ=0","x":-1.4,"T":0.755},{"gamma":"γ=0","x":-1.35,"T":0.795},{"gamma":"γ=0","x":-1.3,"T":0.83},{"gamma":"γ=0","x":-1.2,"T":0.89},{"gamma":"γ=0","x":-1.1,"T":0.94},{"gamma":"γ=0","x":-1,"T":0.972},{"gamma":"γ=0","x":-0.9,"T":0.993},{"gamma":"γ=0","x":-0.8,"T":1},{"gamma":"γ=0","x":-0.7,"T":0.99},{"gamma":"γ=0","x":-0.6,"T":0.966},{"gamma":"γ=0","x":-0.5,"T":0.925},{"gamma":"γ=0","x":-0.4,"T":0.87},{"gamma":"γ=0","x":-0.3,"T":0.797},{"gamma":"γ=0","x":-0.2,"T":0.715},{"gamma":"γ=0","x":-0.1,"T":0.635},{"gamma":"γ=0","x":0,"T":0.555},{"gamma":"γ=0","x":0.1,"T":0.44},{"gamma":"γ=0","x":0.2,"T":0.31},{"gamma":"γ=0","x":0.3,"T":0.19},{"gamma":"γ=0","x":0.4,"T":0.08},{"gamma":"γ=0","x":0.45,"T":0.035},{"gamma":"γ=0","x":0.5,"T":0},{"gamma":"γ=0","x":0.55,"T":0.01},{"gamma":"γ=0","x":0.6,"T":0.03},{"gamma":"γ=0","x":0.65,"T":0.065},{"gamma":"γ=0","x":0.7,"T":0.12},{"gamma":"γ=0","x":0.75,"T":0.22},{"gamma":"γ=0","x":0.8,"T":0.35},{"gamma":"γ=0","x":0.85,"T":0.48},{"gamma":"γ=0","x":0.9,"T":0.61},{"gamma":"γ=0","x":0.95,"T":0.73},{"gamma":"γ=0","x":1,"T":0.82},{"gamma":"γ=0","x":1.05,"T":0.89},{"gamma":"γ=0","x":1.1,"T":0.94},{"gamma":"γ=0","x":1.15,"T":0.975},{"gamma":"γ=0","x":1.2,"T":0.993},{"gamma":"γ=0","x":1.275,"T":1},{"gamma":"γ=0","x":1.35,"T":0.98},{"gamma":"γ=0","x":1.4,"T":0.94},{"gamma":"γ=0","x":1.45,"T":0.88},{"gamma":"γ=0","x":1.5,"T":0.8},{"gamma":"γ=0","x":1.55,"T":0.71},{"gamma":"γ=0","x":1.6,"T":0.62},{"gamma":"γ=0","x":1.65,"T":0.53},{"gamma":"γ=0","x":1.7,"T":0.45},{"gamma":"γ=0","x":1.75,"T":0.37},{"gamma":"γ=0","x":1.8,"T":0.29},{"gamma":"γ=0","x":1.85,"T":0.22},{"gamma":"γ=0","x":1.9,"T":0.15},{"gamma":"γ=0","x":1.95,"T":0.08},{"gamma":"γ=0","x":2,"T":0},

      {"gamma":"γ=0.1","x":-2,"T":0},{"gamma":"γ=0.1","x":-1.95,"T":0.09},{"gamma":"γ=0.1","x":-1.9,"T":0.16},{"gamma":"γ=0.1","x":-1.85,"T":0.21},{"gamma":"γ=0.1","x":-1.8,"T":0.27},{"gamma":"γ=0.1","x":-1.75,"T":0.35},{"gamma":"γ=0.1","x":-1.7,"T":0.43},{"gamma":"γ=0.1","x":-1.65,"T":0.5},{"gamma":"γ=0.1","x":-1.6,"T":0.56},{"gamma":"γ=0.1","x":-1.55,"T":0.62},{"gamma":"γ=0.1","x":-1.5,"T":0.665},{"gamma":"γ=0.1","x":-1.45,"T":0.71},{"gamma":"γ=0.1","x":-1.4,"T":0.755},{"gamma":"γ=0.1","x":-1.35,"T":0.795},{"gamma":"γ=0.1","x":-1.3,"T":0.83},{"gamma":"γ=0.1","x":-1.2,"T":0.89},{"gamma":"γ=0.1","x":-1.1,"T":0.94},{"gamma":"γ=0.1","x":-1,"T":0.972},{"gamma":"γ=0.1","x":-0.9,"T":0.993},{"gamma":"γ=0.1","x":-0.8,"T":1},{"gamma":"γ=0.1","x":-0.7,"T":0.99},{"gamma":"γ=0.1","x":-0.6,"T":0.966},{"gamma":"γ=0.1","x":-0.5,"T":0.925},{"gamma":"γ=0.1","x":-0.4,"T":0.87},{"gamma":"γ=0.1","x":-0.3,"T":0.797},{"gamma":"γ=0.1","x":-0.2,"T":0.715},{"gamma":"γ=0.1","x":-0.1,"T":0.64},{"gamma":"γ=0.1","x":-0.06,"T":0.635},{"gamma":"γ=0.1","x":-0.04,"T":0.66},{"gamma":"γ=0.1","x":-0.03,"T":0.7},{"gamma":"γ=0.1","x":-0.02,"T":0.8},{"gamma":"γ=0.1","x":-0.015,"T":0.92},{"gamma":"γ=0.1","x":-0.01,"T":1},{"gamma":"γ=0.1","x":-0.005,"T":0.85},{"gamma":"γ=0.1","x":0,"T":0.45},{"gamma":"γ=0.1","x":0.005,"T":0.15},{"gamma":"γ=0.1","x":0.01,"T":0.06},{"gamma":"γ=0.1","x":0.02,"T":0.08},{"gamma":"γ=0.1","x":0.04,"T":0.17},{"gamma":"γ=0.1","x":0.07,"T":0.27},{"gamma":"γ=0.1","x":0.1,"T":0.34},{"gamma":"γ=0.1","x":0.15,"T":0.35},{"gamma":"γ=0.1","x":0.2,"T":0.31},{"gamma":"γ=0.1","x":0.3,"T":0.19},{"gamma":"γ=0.1","x":0.4,"T":0.08},{"gamma":"γ=0.1","x":0.45,"T":0.035},{"gamma":"γ=0.1","x":0.5,"T":0},{"gamma":"γ=0.1","x":0.55,"T":0.01},{"gamma":"γ=0.1","x":0.6,"T":0.03},{"gamma":"γ=0.1","x":0.65,"T":0.065},{"gamma":"γ=0.1","x":0.7,"T":0.12},{"gamma":"γ=0.1","x":0.75,"T":0.22},{"gamma":"γ=0.1","x":0.8,"T":0.35},{"gamma":"γ=0.1","x":0.85,"T":0.48},{"gamma":"γ=0.1","x":0.9,"T":0.61},{"gamma":"γ=0.1","x":0.95,"T":0.73},{"gamma":"γ=0.1","x":1,"T":0.82},{"gamma":"γ=0.1","x":1.05,"T":0.89},{"gamma":"γ=0.1","x":1.1,"T":0.94},{"gamma":"γ=0.1","x":1.15,"T":0.975},{"gamma":"γ=0.1","x":1.2,"T":0.993},{"gamma":"γ=0.1","x":1.275,"T":1},{"gamma":"γ=0.1","x":1.35,"T":0.98},{"gamma":"γ=0.1","x":1.4,"T":0.94},{"gamma":"γ=0.1","x":1.45,"T":0.88},{"gamma":"γ=0.1","x":1.5,"T":0.8},{"gamma":"γ=0.1","x":1.55,"T":0.71},{"gamma":"γ=0.1","x":1.6,"T":0.62},{"gamma":"γ=0.1","x":1.65,"T":0.53},{"gamma":"γ=0.1","x":1.7,"T":0.45},{"gamma":"γ=0.1","x":1.75,"T":0.37},{"gamma":"γ=0.1","x":1.8,"T":0.29},{"gamma":"γ=0.1","x":1.85,"T":0.22},{"gamma":"γ=0.1","x":1.9,"T":0.15},{"gamma":"γ=0.1","x":1.95,"T":0.08},{"gamma":"γ=0.1","x":2,"T":0},

      {"gamma":"γ=0.3","x":-2,"T":0},{"gamma":"γ=0.3","x":-1.95,"T":0.07},{"gamma":"γ=0.3","x":-1.9,"T":0.14},{"gamma":"γ=0.3","x":-1.85,"T":0.19},{"gamma":"γ=0.3","x":-1.8,"T":0.25},{"gamma":"γ=0.3","x":-1.75,"T":0.32},{"gamma":"γ=0.3","x":-1.7,"T":0.39},{"gamma":"γ=0.3","x":-1.65,"T":0.46},{"gamma":"γ=0.3","x":-1.6,"T":0.52},{"gamma":"γ=0.3","x":-1.55,"T":0.58},{"gamma":"γ=0.3","x":-1.5,"T":0.63},{"gamma":"γ=0.3","x":-1.4,"T":0.72},{"gamma":"γ=0.3","x":-1.3,"T":0.8},{"gamma":"γ=0.3","x":-1.2,"T":0.87},{"gamma":"γ=0.3","x":-1.1,"T":0.92},{"gamma":"γ=0.3","x":-1,"T":0.96},{"gamma":"γ=0.3","x":-0.9,"T":0.985},{"gamma":"γ=0.3","x":-0.8,"T":0.997},{"gamma":"γ=0.3","x":-0.7,"T":1},{"gamma":"γ=0.3","x":-0.6,"T":0.997},{"gamma":"γ=0.3","x":-0.5,"T":0.99},{"gamma":"γ=0.3","x":-0.4,"T":0.982},{"gamma":"γ=0.3","x":-0.3,"T":0.977},{"gamma":"γ=0.3","x":-0.25,"T":0.98},{"gamma":"γ=0.3","x":-0.2,"T":0.99},{"gamma":"γ=0.3","x":-0.15,"T":0.999},{"gamma":"γ=0.3","x":-0.13,"T":1},{"gamma":"γ=0.3","x":-0.11,"T":0.975},{"gamma":"γ=0.3","x":-0.1,"T":0.93},{"gamma":"γ=0.3","x":-0.08,"T":0.84},{"gamma":"γ=0.3","x":-0.065,"T":0.73},{"gamma":"γ=0.3","x":-0.05,"T":0.63},{"gamma":"γ=0.3","x":-0.035,"T":0.5},{"gamma":"γ=0.3","x":-0.025,"T":0.36},{"gamma":"γ=0.3","x":-0.015,"T":0.22},{"gamma":"γ=0.3","x":-0.005,"T":0.08},{"gamma":"γ=0.3","x":0,"T":0.01},{"gamma":"γ=0.3","x":0.02,"T":0.04},{"gamma":"γ=0.3","x":0.05,"T":0.1},{"gamma":"γ=0.3","x":0.08,"T":0.15},{"gamma":"γ=0.3","x":0.12,"T":0.185},{"gamma":"γ=0.3","x":0.16,"T":0.18},{"gamma":"γ=0.3","x":0.2,"T":0.165},{"gamma":"γ=0.3","x":0.25,"T":0.14},{"gamma":"γ=0.3","x":0.3,"T":0.11},{"gamma":"γ=0.3","x":0.35,"T":0.08},{"gamma":"γ=0.3","x":0.4,"T":0.045},{"gamma":"γ=0.3","x":0.45,"T":0.015},{"gamma":"γ=0.3","x":0.5,"T":0},{"gamma":"γ=0.3","x":0.55,"T":0.012},{"gamma":"γ=0.3","x":0.6,"T":0.035},{"gamma":"γ=0.3","x":0.65,"T":0.07},{"gamma":"γ=0.3","x":0.7,"T":0.13},{"gamma":"γ=0.3","x":0.75,"T":0.24},{"gamma":"γ=0.3","x":0.8,"T":0.38},{"gamma":"γ=0.3","x":0.85,"T":0.51},{"gamma":"γ=0.3","x":0.9,"T":0.64},{"gamma":"γ=0.3","x":0.95,"T":0.76},{"gamma":"γ=0.3","x":1,"T":0.85},{"gamma":"γ=0.3","x":1.05,"T":0.91},{"gamma":"γ=0.3","x":1.1,"T":0.955},{"gamma":"γ=0.3","x":1.15,"T":0.985},{"gamma":"γ=0.3","x":1.2,"T":0.998},{"gamma":"γ=0.3","x":1.25,"T":1},{"gamma":"γ=0.3","x":1.3,"T":0.99},{"gamma":"γ=0.3","x":1.35,"T":0.97},{"gamma":"γ=0.3","x":1.4,"T":0.925},{"gamma":"γ=0.3","x":1.45,"T":0.86},{"gamma":"γ=0.3","x":1.5,"T":0.78},{"gamma":"γ=0.3","x":1.55,"T":0.69},{"gamma":"γ=0.3","x":1.6,"T":0.6},{"gamma":"γ=0.3","x":1.65,"T":0.51},{"gamma":"γ=0.3","x":1.7,"T":0.43},{"gamma":"γ=0.3","x":1.75,"T":0.35},{"gamma":"γ=0.3","x":1.8,"T":0.27},{"gamma":"γ=0.3","x":1.85,"T":0.2},{"gamma":"γ=0.3","x":1.9,"T":0.135},{"gamma":"γ=0.3","x":1.95,"T":0.07},{"gamma":"γ=0.3","x":2,"T":0},

      {"gamma":"γ=0.5","x":-2,"T":0},{"gamma":"γ=0.5","x":-1.95,"T":0.05},{"gamma":"γ=0.5","x":-1.9,"T":0.1},{"gamma":"γ=0.5","x":-1.85,"T":0.15},{"gamma":"γ=0.5","x":-1.8,"T":0.2},{"gamma":"γ=0.5","x":-1.75,"T":0.245},{"gamma":"γ=0.5","x":-1.7,"T":0.29},{"gamma":"γ=0.5","x":-1.65,"T":0.335},{"gamma":"γ=0.5","x":-1.6,"T":0.38},{"gamma":"γ=0.5","x":-1.5,"T":0.48},{"gamma":"γ=0.5","x":-1.4,"T":0.57},{"gamma":"γ=0.5","x":-1.3,"T":0.65},{"gamma":"γ=0.5","x":-1.2,"T":0.72},{"gamma":"γ=0.5","x":-1.1,"T":0.785},{"gamma":"γ=0.5","x":-1,"T":0.835},{"gamma":"γ=0.5","x":-0.9,"T":0.875},{"gamma":"γ=0.5","x":-0.8,"T":0.905},{"gamma":"γ=0.5","x":-0.7,"T":0.928},{"gamma":"γ=0.5","x":-0.6,"T":0.94},{"gamma":"γ=0.5","x":-0.5,"T":0.942},{"gamma":"γ=0.5","x":-0.45,"T":0.937},{"gamma":"γ=0.5","x":-0.4,"T":0.925},{"gamma":"γ=0.5","x":-0.35,"T":0.905},{"gamma":"γ=0.5","x":-0.3,"T":0.87},{"gamma":"γ=0.5","x":-0.25,"T":0.82},{"gamma":"γ=0.5","x":-0.2,"T":0.74},{"gamma":"γ=0.5","x":-0.15,"T":0.6},{"gamma":"γ=0.5","x":-0.12,"T":0.48},{"gamma":"γ=0.5","x":-0.1,"T":0.38},{"gamma":"γ=0.5","x":-0.08,"T":0.28},{"gamma":"γ=0.5","x":-0.06,"T":0.18},{"gamma":"γ=0.5","x":-0.04,"T":0.09},{"gamma":"γ=0.5","x":-0.02,"T":0.03},{"gamma":"γ=0.5","x":0,"T":0.005},{"gamma":"γ=0.5","x":0.03,"T":0.04},{"gamma":"γ=0.5","x":0.06,"T":0.075},{"gamma":"γ=0.5","x":0.1,"T":0.095},{"gamma":"γ=0.5","x":0.15,"T":0.1},{"gamma":"γ=0.5","x":0.2,"T":0.09},{"gamma":"γ=0.5","x":0.25,"T":0.075},{"gamma":"γ=0.5","x":0.3,"T":0.06},{"gamma":"γ=0.5","x":0.35,"T":0.045},{"gamma":"γ=0.5","x":0.4,"T":0.03},{"gamma":"γ=0.5","x":0.45,"T":0.01},{"gamma":"γ=0.5","x":0.5,"T":0},{"gamma":"γ=0.5","x":0.55,"T":0.01},{"gamma":"γ=0.5","x":0.6,"T":0.04},{"gamma":"γ=0.5","x":0.65,"T":0.08},{"gamma":"γ=0.5","x":0.7,"T":0.17},{"gamma":"γ=0.5","x":0.75,"T":0.31},{"gamma":"γ=0.5","x":0.8,"T":0.45},{"gamma":"γ=0.5","x":0.85,"T":0.585},{"gamma":"γ=0.5","x":0.9,"T":0.71},{"gamma":"γ=0.5","x":0.95,"T":0.82},{"gamma":"γ=0.5","x":1,"T":0.9},{"gamma":"γ=0.5","x":1.05,"T":0.95},{"gamma":"γ=0.5","x":1.1,"T":0.985},{"gamma":"γ=0.5","x":1.15,"T":0.998},{"gamma":"γ=0.5","x":1.18,"T":1},{"gamma":"γ=0.5","x":1.25,"T":0.99},{"gamma":"γ=0.5","x":1.3,"T":0.965},{"gamma":"γ=0.5","x":1.35,"T":0.92},{"gamma":"γ=0.5","x":1.4,"T":0.86},{"gamma":"γ=0.5","x":1.45,"T":0.785},{"gamma":"γ=0.5","x":1.5,"T":0.7},{"gamma":"γ=0.5","x":1.55,"T":0.615},{"gamma":"γ=0.5","x":1.6,"T":0.53},{"gamma":"γ=0.5","x":1.65,"T":0.45},{"gamma":"γ=0.5","x":1.7,"T":0.375},{"gamma":"γ=0.5","x":1.75,"T":0.305},{"gamma":"γ=0.5","x":1.8,"T":0.235},{"gamma":"γ=0.5","x":1.85,"T":0.17},{"gamma":"γ=0.5","x":1.9,"T":0.11},{"gamma":"γ=0.5","x":1.95,"T":0.055},{"gamma":"γ=0.5","x":2,"T":0}
    ]
  },
  "concat": [
    {
      "width": 414, "height": 414,
      "data": {"name": "panelA"},
      "layer": [
        {
          "mark": {"type": "line", "strokeWidth": 3, "interpolate": "monotone"},
          "encoding": {
            "x": {"field": "x", "type": "quantitative", "scale": {"domain": [-2, 2], "nice": false, "zero": false},
              "axis": {"orient": "bottom", "values": [-2, -1.5, -1, -0.5, 0, 0.5, 1, 1.5, 2], "labels": false, "title": null,
                "tickSize": {"expr": "round(datum.value*2) % 2 == 0 ? -8 : -5"}, "domainWidth": 2.2, "tickWidth": 1.8}},
            "y": {"field": "T", "type": "quantitative", "scale": {"domain": [-0.1, 1.15], "nice": false, "zero": false},
              "axis": {"orient": "left", "values": [0, 0.1, 0.2, 0.3, 0.4, 0.5, 0.6, 0.7, 0.8, 0.9, 1, 1.1],
                "labelExpr": "round(datum.value*10) % 2 == 0 ? format(datum.value, '.1f') : ''",
                "tickSize": {"expr": "round(datum.value*10) % 2 == 0 ? -8 : -5"}, "labelPadding": 16, "labelFontSize": 29,
                "domainWidth": 2.2, "tickWidth": 1.8,
                "title": "T(ω)", "titleFontSize": 36, "titleX": -79, "titleY": 414, "titleAngle": 270,
                "titleBaseline": "alphabetic", "titleAlign": "center"}},
            "color": {"field": "gamma", "type": "nominal", "legend": null,
              "scale": {"domain": ["γ=0", "γ=0.1", "γ=0.3", "γ=0.5", "γ=0.8"], "range": ["#000000", "#ff0000", "#0000ff", "#008000", "#ff00ff"]}},
            "strokeDash": {"field": "gamma", "type": "nominal", "legend": null,
              "scale": {"domain": ["γ=0", "γ=0.1", "γ=0.3", "γ=0.5", "γ=0.8"], "range": [[1, 0], [5, 7], [22, 12], [10, 5], [22, 8, 5, 8]]}}
          }
        },
        {
          "data": {"values": [{"label": "(a)"}]},
          "mark": {"type": "text", "fontSize": 38, "font": "Liberation Sans", "align": "left", "baseline": "alphabetic", "color": "black"},
          "encoding": {
            "text": {"field": "label"},
            "x": {"datum": -1.865, "type": "quantitative",
              "axis": {"orient": "top", "values": [-2, -1.5, -1, -0.5, 0, 0.5, 1, 1.5, 2], "labels": false, "title": null,
                "tickSize": {"expr": "round(datum.value*2) % 2 == 0 ? -8 : -5"}, "domainWidth": 1.3, "tickWidth": 1.3}},
            "y": {"datum": 1.025, "type": "quantitative",
              "axis": {"orient": "right", "values": [0, 0.1, 0.2, 0.3, 0.4, 0.5, 0.6, 0.7, 0.8, 0.9, 1, 1.1], "labels": false, "title": null,
                "tickSize": {"expr": "round(datum.value*10) % 2 == 0 ? -8 : -5"}, "domainWidth": 1.3, "tickWidth": 1.3}}
          }
        }
      ],
      "resolve": {"axis": {"x": "independent", "y": "independent"}}
    },
    {
      "width": 414, "height": 414,
      "data": {"name": "panelC"},
      "layer": [
        {
          "mark": {"type": "line", "strokeWidth": 3, "interpolate": "monotone"},
          "encoding": {
            "x": {"field": "x", "type": "quantitative", "scale": {"domain": [-2, 2], "nice": false, "zero": false},
              "axis": {"orient": "bottom", "values": [-2, -1.5, -1, -0.5, 0, 0.5, 1, 1.5, 2], "labels": false, "title": null,
                "tickSize": {"expr": "round(datum.value*2) % 2 == 0 ? -8 : -5"}, "domainWidth": 2.2, "tickWidth": 1.8}},
            "y": {"field": "T", "type": "quantitative", "scale": {"domain": [-0.1, 1.15], "nice": false, "zero": false},
              "axis": {"orient": "left", "values": [0, 0.1, 0.2, 0.3, 0.4, 0.5, 0.6, 0.7, 0.8, 0.9, 1, 1.1],
                "labelExpr": "round(datum.value*10) % 2 == 0 ? format(datum.value, '.1f') : ''",
                "tickSize": {"expr": "round(datum.value*10) % 2 == 0 ? -8 : -5"}, "labelPadding": 16, "labelFontSize": 29,
                "domainWidth": 2.2, "tickWidth": 1.8, "title": null}},
            "color": {"field": "gamma", "type": "nominal", "legend": null,
              "scale": {"domain": ["γ=0", "γ=0.1", "γ=0.3", "γ=0.5"], "range": ["#000000", "#ff0000", "#0000ff", "#008000"]}},
            "strokeDash": {"field": "gamma", "type": "nominal", "legend": null,
              "scale": {"domain": ["γ=0", "γ=0.1", "γ=0.3", "γ=0.5"], "range": [[1, 0], [5, 7], [22, 12], [10, 5]]}}
          }
        },
        {
          "data": {"values": [{"label": "(c)"}]},
          "mark": {"type": "text", "fontSize": 38, "font": "Liberation Sans", "align": "left", "baseline": "alphabetic", "color": "black"},
          "encoding": {
            "text": {"field": "label"},
            "x": {"datum": -1.874, "type": "quantitative",
              "axis": {"orient": "top", "values": [-2, -1.5, -1, -0.5, 0, 0.5, 1, 1.5, 2], "labels": false, "title": null,
                "tickSize": {"expr": "round(datum.value*2) % 2 == 0 ? -8 : -5"}, "domainWidth": 1.3, "tickWidth": 1.3}},
            "y": {"datum": 1.025, "type": "quantitative",
              "axis": {"orient": "right", "values": [0, 0.1, 0.2, 0.3, 0.4, 0.5, 0.6, 0.7, 0.8, 0.9, 1, 1.1], "labels": false, "title": null,
                "tickSize": {"expr": "round(datum.value*10) % 2 == 0 ? -8 : -5"}, "domainWidth": 1.3, "tickWidth": 1.3}}
          }
        }
      ],
      "resolve": {"axis": {"x": "independent", "y": "independent"}}
    },
    {
      "width": 414, "height": 414,
      "data": {"name": "panelB"},
      "layer": [
        {
          "mark": {"type": "line", "strokeWidth": 3, "interpolate": "monotone"},
          "encoding": {
            "x": {"field": "x", "type": "quantitative", "scale": {"domain": [-2, 2], "nice": false, "zero": false},
              "axis": {"orient": "bottom", "values": [-2, -1.5, -1, -0.5, 0, 0.5, 1, 1.5, 2],
                "labelExpr": "round(datum.value*2) % 2 == 0 ? '' + datum.value : ''", "labelFontSize": 28, "labelPadding": 21,
                "tickSize": {"expr": "round(datum.value*2) % 2 == 0 ? -8 : -5"}, "domainWidth": 2.2, "tickWidth": 1.8,
                "title": "ω/t₀", "titleFontSize": 38, "titleX": 199, "titleY": 86, "titleAlign": "left", "titleBaseline": "alphabetic"}},
            "y": {"field": "T", "type": "quantitative", "scale": {"domain": [-0.1, 1.15], "nice": false, "zero": false},
              "axis": {"orient": "left", "values": [0, 0.1, 0.2, 0.3, 0.4, 0.5, 0.6, 0.7, 0.8, 0.9, 1, 1.1],
                "labelExpr": "round(datum.value*10) % 2 == 0 ? format(datum.value, '.1f') : ''",
                "tickSize": {"expr": "round(datum.value*10) % 2 == 0 ? -8 : -5"}, "labelPadding": 16, "labelFontSize": 29,
                "domainWidth": 2.2, "tickWidth": 1.8, "title": null}},
            "color": {"field": "gamma", "type": "nominal",
              "scale": {"domain": ["γ=0", "γ=0.1", "γ=0.3", "γ=0.5", "γ=0.8"], "range": ["#000000", "#ff0000", "#0000ff", "#008000", "#ff00ff"]},
              "legend": {"orient": "none", "legendX": 260, "legendY": -157, "title": null, "symbolType": "stroke", "symbolSize": 4096,
                "symbolStrokeWidth": 3, "labelFont": "Liberation Serif", "labelFontSize": 26, "labelColor": "black",
                "fillColor": "white", "strokeColor": "black", "padding": 12, "clipHeight": 28, "rowPadding": 7, "labelOffset": 7}},
            "strokeDash": {"field": "gamma", "type": "nominal",
              "scale": {"domain": ["γ=0", "γ=0.1", "γ=0.3", "γ=0.5", "γ=0.8"], "range": [[1, 0], [5, 7], [22, 12], [10, 5], [22, 8, 5, 8]]},
              "legend": {"orient": "none", "legendX": 260, "legendY": -157, "title": null, "symbolType": "stroke", "symbolSize": 4096,
                "symbolStrokeWidth": 3, "labelFont": "Liberation Serif", "labelFontSize": 26, "labelColor": "black",
                "fillColor": "white", "strokeColor": "black", "padding": 12, "clipHeight": 28, "rowPadding": 7, "labelOffset": 7}}
          }
        },
        {
          "data": {"values": [{"label": "(b)"}]},
          "mark": {"type": "text", "fontSize": 38, "font": "Liberation Sans", "align": "left", "baseline": "alphabetic", "color": "black"},
          "encoding": {
            "text": {"field": "label"},
            "x": {"datum": -1.84, "type": "quantitative",
              "axis": {"orient": "top", "values": [-2, -1.5, -1, -0.5, 0, 0.5, 1, 1.5, 2], "labels": false, "title": null,
                "tickSize": {"expr": "round(datum.value*2) % 2 == 0 ? -8 : -5"}, "domainWidth": 1.3, "tickWidth": 1.3}},
            "y": {"datum": 1.023, "type": "quantitative",
              "axis": {"orient": "right", "values": [0, 0.1, 0.2, 0.3, 0.4, 0.5, 0.6, 0.7, 0.8, 0.9, 1, 1.1], "labels": false, "title": null,
                "tickSize": {"expr": "round(datum.value*10) % 2 == 0 ? -8 : -5"}, "domainWidth": 1.3, "tickWidth": 1.3}}
          }
        }
      ],
      "resolve": {"axis": {"x": "independent", "y": "independent"}}
    },
    {
      "width": 414, "height": 414,
      "data": {"name": "panelD"},
      "layer": [
        {
          "mark": {"type": "line", "strokeWidth": 3, "interpolate": "monotone"},
          "encoding": {
            "x": {"field": "x", "type": "quantitative", "scale": {"domain": [-2, 2], "nice": false, "zero": false},
              "axis": {"orient": "bottom", "values": [-2, -1.5, -1, -0.5, 0, 0.5, 1, 1.5, 2],
                "labelExpr": "round(datum.value*2) % 2 == 0 ? '' + datum.value : ''", "labelFontSize": 28, "labelPadding": 21,
                "tickSize": {"expr": "round(datum.value*2) % 2 == 0 ? -8 : -5"}, "domainWidth": 2.2, "tickWidth": 1.8,
                "title": "ω/t₀", "titleFontSize": 38, "titleX": 199, "titleY": 86, "titleAlign": "left", "titleBaseline": "alphabetic"}},
            "y": {"field": "T", "type": "quantitative", "scale": {"domain": [-0.1, 1.15], "nice": false, "zero": false},
              "axis": {"orient": "left", "values": [0, 0.1, 0.2, 0.3, 0.4, 0.5, 0.6, 0.7, 0.8, 0.9, 1, 1.1],
                "labelExpr": "round(datum.value*10) % 2 == 0 ? format(datum.value, '.1f') : ''",
                "tickSize": {"expr": "round(datum.value*10) % 2 == 0 ? -8 : -5"}, "labelPadding": 16, "labelFontSize": 29,
                "domainWidth": 2.2, "tickWidth": 1.8, "title": null}},
            "color": {"field": "gamma", "type": "nominal",
              "scale": {"domain": ["γ=0", "γ=0.1", "γ=0.3", "γ=0.5"], "range": ["#000000", "#ff0000", "#0000ff", "#008000"]},
              "legend": {"orient": "none", "legendX": 251, "legendY": -147, "title": null, "symbolType": "stroke", "symbolSize": 5041,
                "symbolStrokeWidth": 3, "labelFont": "Liberation Serif", "labelFontSize": 28, "labelColor": "black",
                "fillColor": "white", "strokeColor": "black", "padding": 12, "clipHeight": 30, "rowPadding": 9, "labelOffset": 8}},
            "strokeDash": {"field": "gamma", "type": "nominal",
              "scale": {"domain": ["γ=0", "γ=0.1", "γ=0.3", "γ=0.5"], "range": [[1, 0], [5, 7], [22, 12], [10, 5]]},
              "legend": {"orient": "none", "legendX": 251, "legendY": -147, "title": null, "symbolType": "stroke", "symbolSize": 5041,
                "symbolStrokeWidth": 3, "labelFont": "Liberation Serif", "labelFontSize": 28, "labelColor": "black",
                "fillColor": "white", "strokeColor": "black", "padding": 12, "clipHeight": 30, "rowPadding": 9, "labelOffset": 8}}
          }
        },
        {
          "data": {"values": [{"label": "(d)"}]},
          "mark": {"type": "text", "fontSize": 38, "font": "Liberation Sans", "align": "left", "baseline": "alphabetic", "color": "black"},
          "encoding": {
            "text": {"field": "label"},
            "x": {"datum": -1.874, "type": "quantitative",
              "axis": {"orient": "top", "values": [-2, -1.5, -1, -0.5, 0, 0.5, 1, 1.5, 2], "labels": false, "title": null,
                "tickSize": {"expr": "round(datum.value*2) % 2 == 0 ? -8 : -5"}, "domainWidth": 1.3, "tickWidth": 1.3}},
            "y": {"datum": 1.023, "type": "quantitative",
              "axis": {"orient": "right", "values": [0, 0.1, 0.2, 0.3, 0.4, 0.5, 0.6, 0.7, 0.8, 0.9, 1, 1.1], "labels": false, "title": null,
                "tickSize": {"expr": "round(datum.value*10) % 2 == 0 ? -8 : -5"}, "domainWidth": 1.3, "tickWidth": 1.3}}
          }
        }
      ],
      "resolve": {"axis": {"x": "independent", "y": "independent"}}
    }
  ]
}
